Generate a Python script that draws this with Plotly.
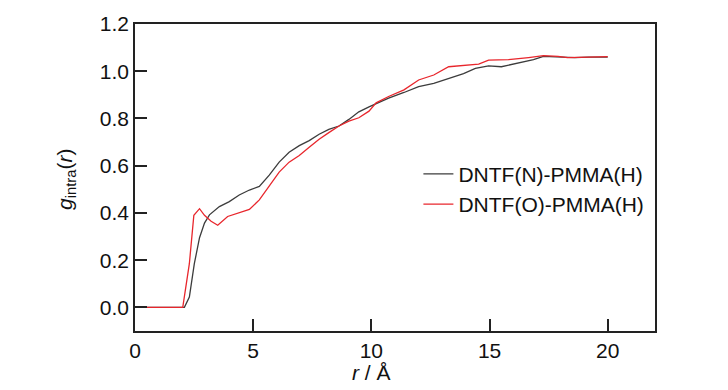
import plotly.graph_objects as go

# DNTF(N)-PMMA(H)  (dark grey)
r_n = [0, 2.09, 2.3, 2.51, 2.73, 2.94, 3.15, 3.57, 3.99, 4.41, 4.84, 5.26, 5.68, 6.1, 6.52,
       6.95, 7.37, 7.79, 8.2, 8.63, 9.05, 9.47, 9.9, 10.3, 10.73, 11.38, 12.0, 12.64, 13.27,
       13.9, 14.4, 14.96, 15.5, 16.2, 16.86, 17.28, 17.9, 18.6, 19.2, 20.0]
g_n = [0, 0, 0.044, 0.185, 0.295, 0.357, 0.392, 0.427, 0.448, 0.476, 0.497, 0.512, 0.56,
       0.615, 0.657, 0.685, 0.706, 0.733, 0.754, 0.768, 0.796, 0.828, 0.849, 0.866, 0.886,
       0.91, 0.935, 0.949, 0.97, 0.99, 1.012, 1.023, 1.019, 1.033, 1.049, 1.063, 1.06,
       1.058, 1.06, 1.06]

# DNTF(O)-PMMA(H)  (red)
r_o = [0, 2.02, 2.3, 2.49, 2.73, 2.94, 3.22, 3.5, 3.92, 4.41, 4.84, 5.26, 5.68, 6.1, 6.52,
       6.95, 7.37, 7.79, 8.2, 8.63, 9.05, 9.47, 9.9, 10.2, 10.73, 11.38, 12.0, 12.64, 13.27,
       13.9, 14.54, 14.96, 15.8, 16.65, 17.28, 17.9, 18.3, 19.2, 20.0]
g_o = [0, 0, 0.185, 0.39, 0.418, 0.39, 0.365, 0.348, 0.385, 0.4, 0.415, 0.455, 0.515,
       0.573, 0.615, 0.643, 0.678, 0.712, 0.74, 0.768, 0.789, 0.803, 0.831, 0.866, 0.893,
       0.921, 0.963, 0.984, 1.019, 1.025, 1.03, 1.047, 1.049, 1.058, 1.066, 1.063, 1.058,
       1.06, 1.062]

x_ticks = [0, 5, 10, 15, 20]
y_ticks = [0.0, 0.2, 0.4, 0.6, 0.8, 1.0, 1.2]
y_tick_text = ["0.0", "0.2", "0.4", "0.6", "0.8", "1.0", "1.2"]

FONT = "Liberation Sans Narrow, Arial Narrow, Liberation Sans, Arial, sans-serif"
FS = 21

fig = go.Figure()
fig.add_trace(go.Scatter(x=r_n, y=g_n, mode="lines", name="DNTF(N)-PMMA(H)",
                         line=dict(color="#3c3c3c", width=1.3)))
fig.add_trace(go.Scatter(x=r_o, y=g_o, mode="lines", name="DNTF(O)-PMMA(H)",
                         line=dict(color="#e8262c", width=1.3)))

axis_common = dict(showgrid=False, zeroline=False, showline=True, linecolor="#222222",
                   linewidth=1.5, mirror=True, ticks="inside", ticklen=12, tickwidth=1.5,
                   tickcolor="#222222", tickfont=dict(family=FONT, size=FS, color="#111111"))

fig.update_xaxes(range=[0, 22], tickvals=x_ticks, **axis_common)
fig.update_yaxes(range=[-0.1, 1.2], tickvals=y_ticks, ticktext=y_tick_text, **axis_common)

fig.add_annotation(x=10, y=-0.135, xref="x", yref="paper", yanchor="middle",
                   text="<i>r</i> / Å", showarrow=False,
                   font=dict(family=FONT, size=FS, color="#111111"))
fig.add_annotation(x=-0.133, y=0.495, xref="paper", yref="paper", textangle=-90,
                   xanchor="center", yanchor="middle",
                   text="<i>g</i><sub>intra</sub>(<i>r</i>)", showarrow=False,
                   font=dict(family=FONT, size=FS, color="#111111"))

fig.update_layout(
    width=728, height=390,
    margin=dict(l=135, r=73, t=20, b=59),
    paper_bgcolor="white", plot_bgcolor="white",
    showlegend=True,
    legend=dict(x=0.545, y=0.462, xanchor="left", yanchor="middle",
                bgcolor="rgba(0,0,0,0)", tracegroupgap=0,
                font=dict(family=FONT, size=FS, color="#111111")),
)

fig.write_html("out.html", config={"displayModeBar": False},
               post_script="document.body.style.margin='0';document.body.style.overflow='hidden';")
